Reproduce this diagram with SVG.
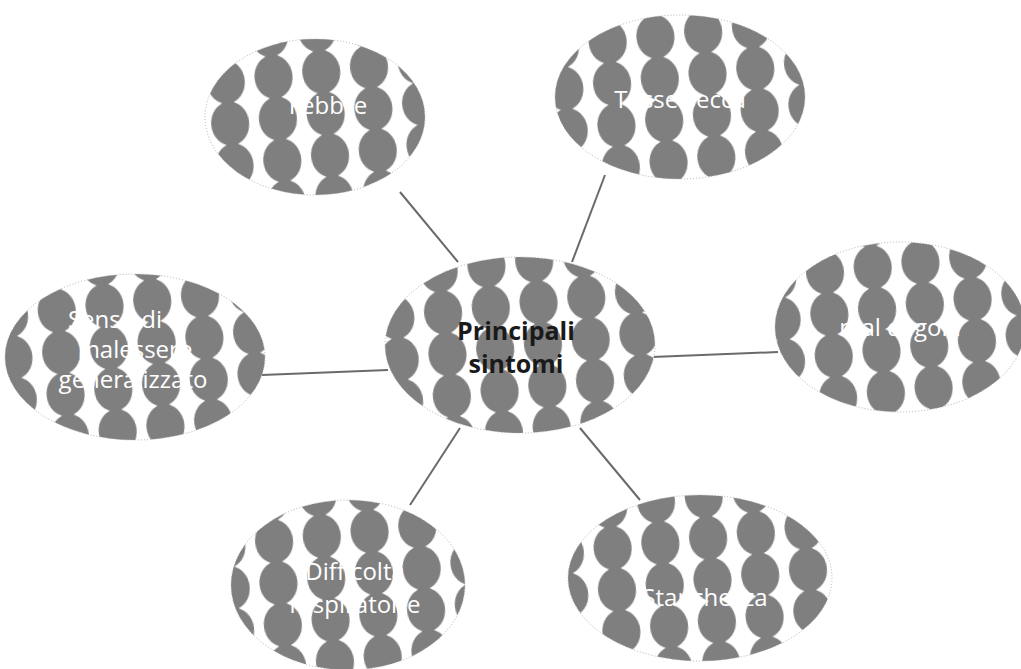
<svg xmlns="http://www.w3.org/2000/svg" width="1021" height="669" viewBox="0 0 1021 669">
<defs>
<pattern id="blobs" patternUnits="userSpaceOnUse" width="48" height="42" patternTransform="rotate(-6)">
<rect width="48" height="42" fill="#ffffff"/>
<ellipse cx="24" cy="21" rx="19" ry="22" fill="#7f7f7f"/>
</pattern>
<style>
.bub{fill:url(#blobs);stroke:#b0b0b0;stroke-width:1;stroke-dasharray:1 2}
.lbl{font-family:"Open Sans","DejaVu Sans",sans-serif;font-size:24px;fill:#ffffff;text-anchor:middle}
.ctr{font-family:"Open Sans","DejaVu Sans",sans-serif;font-size:25px;font-weight:bold;fill:#1a1a1a;text-anchor:middle}
.con{stroke:#6a6a6a;stroke-width:2;fill:none}
</style>
</defs>
<rect width="1021" height="669" fill="#ffffff"/>
<g id="connectors">
<line class="con" x1="458" y1="262" x2="400" y2="192"/>
<line class="con" x1="572" y1="262" x2="605" y2="175"/>
<line class="con" x1="388" y1="370" x2="262" y2="375"/>
<line class="con" x1="652" y1="357" x2="778" y2="352"/>
<line class="con" x1="460" y1="428" x2="410" y2="505"/>
<line class="con" x1="580" y1="428" x2="640" y2="500"/>
</g>
<g id="n-center">
<ellipse class="bub" cx="520" cy="345" rx="135" ry="88"/>
<text class="ctr" x="516" y="340">Principali</text>
<text class="ctr" x="516" y="373">sintomi</text>
</g>
<g id="n-febbre">
<ellipse class="bub" cx="315" cy="117" rx="110" ry="78"/>
<text class="lbl" x="328" y="114">Febbre</text>
</g>
<g id="n-tosse">
<ellipse class="bub" cx="680" cy="97" rx="125" ry="82"/>
<text class="lbl" x="680" y="108">Tosse secca</text>
</g>
<g id="n-malessere">
<ellipse class="bub" cx="135" cy="357" rx="130" ry="83"/>
<text class="lbl" x="115" y="328">Senso di</text>
<text class="lbl" x="135" y="358">malessere</text>
<text class="lbl" x="133" y="388">generalizzato</text>
</g>
<g id="n-gola">
<ellipse class="bub" cx="900" cy="327" rx="125" ry="85"/>
<text class="lbl" x="900" y="336">mal di gola</text>
</g>
<g id="n-respiratorie">
<ellipse class="bub" cx="348" cy="585" rx="117" ry="85"/>
<text class="lbl" x="355" y="580">Difficoltà</text>
<text class="lbl" x="355" y="613">respiratorie</text>
</g>
<g id="n-stanchezza">
<ellipse class="bub" cx="700" cy="578" rx="132" ry="83"/>
<text class="lbl" x="705" y="606">Stanchezza</text>
</g>
</svg>
